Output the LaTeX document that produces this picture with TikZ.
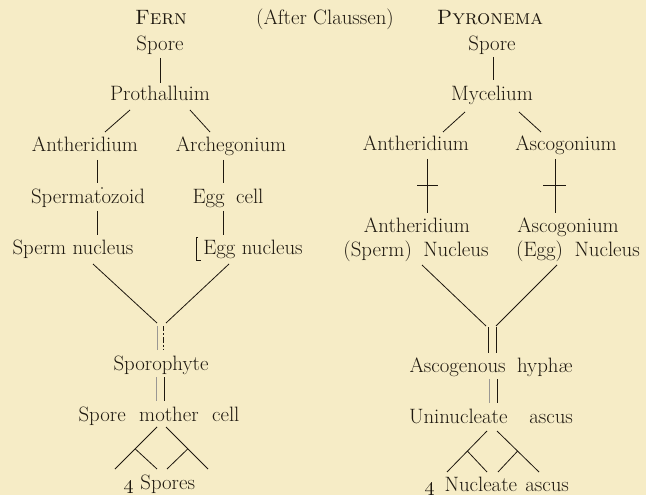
\documentclass[tikz,border=0pt]{standalone}
\usepackage{tikz}
\usetikzlibrary{positioning,calc}
\definecolor{paper}{RGB}{246,236,198}
\definecolor{ink}{RGB}{30,24,15}
\newcommand{\myfont}{\fontsize{15.6}{18}\selectfont}
\newcommand{\wsp}{\hspace{0.55em}}
\newcommand{\wspb}{\hspace{1.05em}}

\tikzset{
  lbl/.style={anchor=base, inner sep=0pt, text=ink, font=\myfont},
  link/.style={draw=ink, line width=0.6pt},
  faint/.style={draw=ink!45, line width=0.5pt}
}

\begin{document}
\begin{tikzpicture}[x=0.75pt, y=-0.75pt]

  % paper
  \fill[paper] (0,0) rectangle (646,495);
  \useasboundingbox (0,0) rectangle (646,495);

  %%%%%%%%%%%%%%%%%%%%%%%%%%%%%%%%%%%%%%%%%%%%%%%%%%%%%%%%%%%%%%%%%%%%%%%%%%%%
  %%%%%%%%%%% headings
  %%%%%%%%%%%%%%%%%%%%%%%%%%%%%%%%%%%%%%%%%%%%%%%%%%%%%%%%%%%%%%%%%%%%%%%%%%%%

  \node [lbl] (fern) at (161,25) {\textsc{Fern}};
  \node [lbl] (after) at (325,25) {(After Claussen)};
  \node [lbl] (pyro) at (490,25) {\textsc{Pyronema}};

  %%%%%%%%%%%%%%%%%%%%%%%%%%%%%%%%%%%%%%%%%%%%%%%%%%%%%%%%%%%%%%%%%%%%%%%%%%%%
  %%%%%%%%%%% fern
  %%%%%%%%%%%%%%%%%%%%%%%%%%%%%%%%%%%%%%%%%%%%%%%%%%%%%%%%%%%%%%%%%%%%%%%%%%%%

  % spore and prothallium
  \node [lbl] (fspore) at (160,51) {Spore};
  \node [lbl] (proth) at (160,101) {Prothalluim};

  % sex organs
  \node [lbl] (fanth) at (85,152) {Antheridium};
  \node [lbl] (arch) at (231,152) {Archegonium};

  % gametes
  \node [lbl] (sperm) at (88,204) {Spermatozoid};
  \node [lbl] (eggc) at (228,204) {Egg\wsp cell};

  % nuclei
  \node [lbl] (spermn) at (73,255) {Sperm nucleus};
  \node [lbl] (eggn) at (253,255) {Egg nucleus};

  % diploid
  \node [lbl] (sporo) at (161,370) {Sporophyte};
  \node [lbl] (smc) at (159,421) {Spore\hspace{0.65em}mother\hspace{0.65em}cell};
  \node [lbl] (fours) at (160,489) {\oldstylenums{4} Spores};

  % lines
  \draw [link] ($(fspore.base)+(0,7)$) -- ($(proth.base)+(0,-18)$);
  \draw [link] ($(proth.base)+(-30,9)$) -- ($(fanth.base)+(20,-20)$);
  \draw [link] ($(proth.base)+(30,9)$) -- ($(arch.base)+(-21,-20)$);
  \draw [link] ($(fanth.base)+(12,8)$) -- ($(sperm.base)+(9,-21)$);
  \fill [ink] ($(sperm.base)+(14,-16)$) circle (0.9);
  \draw [link] ($(arch.base)+(-8,8)$) -- ($(eggc.base)+(-5,-21)$);
  \draw [link] ($(sperm.base)+(9,7)$) -- ($(spermn.base)+(24,-20)$);
  \draw [link] ($(eggc.base)+(-5,7)$) -- ($(eggn.base)+(-30,-20)$);

  % bracket before Egg nucleus
  \draw [link] ($(eggn.base)+(-55,-18)$) -- ($(eggn.base)+(-57,-18)$)
    -- ($(eggn.base)+(-57,5)$) -- ($(eggn.base)+(-52,5)$);

  % fusion
  \draw [link] ($(spermn.base)+(20,9)$) -- ($(sporo.base)+(-4,-47)$);
  \draw [link] ($(eggn.base)+(-24,9)$) -- ($(sporo.base)+(5,-47)$);
  \draw [faint] ($(sporo.base)+(-4,-44)$) -- ($(sporo.base)+(-4,-20)$);
  \draw [link, dash pattern=on 4pt off 1.5pt on 1.5pt off 1.5pt]
    ($(sporo.base)+(2,-44)$) -- ($(sporo.base)+(2,-20)$);
  \draw [faint] ($(sporo.base)+(-5,7)$) -- ($(smc.base)+(-3,-20)$);
  \draw [link] ($(sporo.base)+(3,7)$) -- ($(smc.base)+(5,-20)$);

  % tetrad
  \draw [link] ($(smc.base)+(-2,6)$) -- coordinate[pos=0.52] (fl) ($(fours.base)+(-45,-20)$);
  \draw [link] ($(smc.base)+(7,6)$) -- coordinate[pos=0.52] (fr) ($(fours.base)+(48,-20)$);
  \draw [link] (fl) -- ($(fours.base)+(-3,-20)$);
  \draw [link] (fr) -- ($(fours.base)+(7,-20)$);

  %%%%%%%%%%%%%%%%%%%%%%%%%%%%%%%%%%%%%%%%%%%%%%%%%%%%%%%%%%%%%%%%%%%%%%%%%%%%
  %%%%%%%%%%% pyronema
  %%%%%%%%%%%%%%%%%%%%%%%%%%%%%%%%%%%%%%%%%%%%%%%%%%%%%%%%%%%%%%%%%%%%%%%%%%%%

  % spore and mycelium
  \node [lbl] (pspore) at (492,51) {Spore};
  \node [lbl] (myc) at (492,101) {Mycelium};

  % sex organs
  \node [lbl] (panth) at (416,151) {Antheridium};
  \node [lbl] (asco) at (566,151) {Ascogonium};

  % nuclei
  \node [lbl] (panthn) at (417,233) {Antheridium};
  \node [lbl] (ascon) at (568,233) {Ascogonium};
  \node [lbl] (spermnuc) at (416,257) {(Sperm)\wsp Nucleus};
  \node [lbl] (eggnuc) at (578,257) {(Egg)\wsp Nucleus};

  % diploid
  \node [lbl] (ascog) at (491,372) {Ascogenous\wsp hyph\ae};
  \node [lbl] (unin) at (491,423) {Uninucleate\wspb ascus};
  \node [lbl] (fourn) at (497,491) {\oldstylenums{4}\hspace{0.5em}Nucleate\hspace{0.4em}ascus};

  % lines
  \draw [link] ($(pspore.base)+(1,6)$) -- ($(myc.base)+(1,-21)$);
  \draw [link] ($(myc.base)+(-27,11)$) -- ($(panth.base)+(27,-19)$);
  \draw [link] ($(myc.base)+(27,11)$) -- ($(asco.base)+(-25,-19)$);
  \draw [link] ($(panth.base)+(11,8)$) -- ($(panthn.base)+(10,-20)$);
  \draw [link] ($(panth.base)+(1,34)$) -- ($(panth.base)+(22,34)$);
  \draw [link] ($(asco.base)+(-11,8)$) -- ($(ascon.base)+(-13,-20)$);
  \draw [link] ($(asco.base)+(-23,34)$) -- ($(asco.base)+(0,34)$);

  % fusion
  \draw [link] ($(spermnuc.base)+(6,8)$) -- ($(ascog.base)+(-5,-46)$);
  \draw [link] ($(eggnuc.base)+(-21,8)$) -- ($(ascog.base)+(5,-46)$);
  \draw [link] ($(ascog.base)+(-3,-45)$) -- ($(ascog.base)+(-3,-19)$);
  \draw [link] ($(ascog.base)+(5,-45)$) -- ($(ascog.base)+(5,-19)$);
  \draw [faint] ($(ascog.base)+(-2,7)$) -- ($(unin.base)+(-2,-20)$);
  \draw [link] ($(ascog.base)+(6,7)$) -- ($(unin.base)+(6,-20)$);

  % asci
  \draw [link] ($(unin.base)+(-4,8)$) -- coordinate[pos=0.49] (pl) ($(fourn.base)+(-50,-19)$);
  \draw [link] ($(unin.base)+(6,8)$) -- coordinate[pos=0.49] (pr) ($(fourn.base)+(42,-19)$);
  \draw [link] (pl) -- ($(fourn.base)+(-10,-19)$);
  \draw [link] (pr) -- ($(fourn.base)+(1,-19)$);

\end{tikzpicture}
\end{document}
